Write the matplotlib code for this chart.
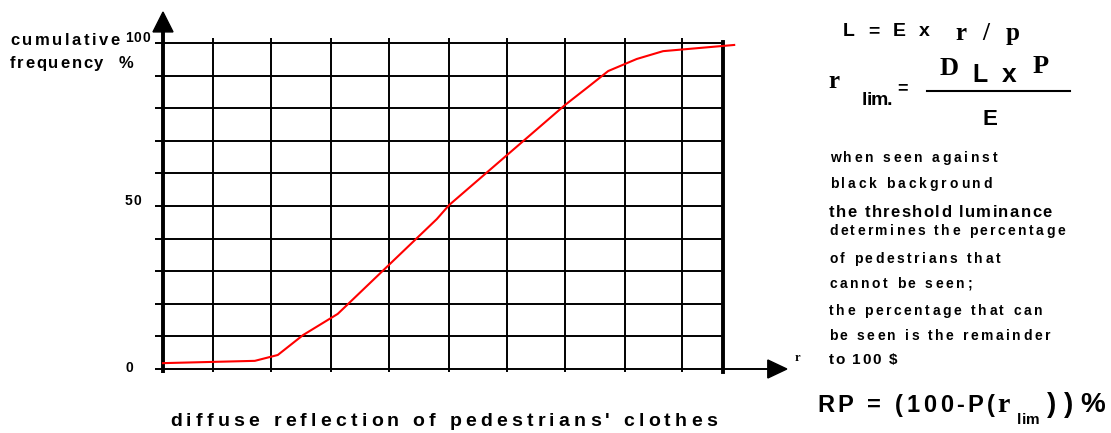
import matplotlib
matplotlib.use("Agg")
import matplotlib.pyplot as plt
from matplotlib.patches import Polygon

W, H = 1111, 433

# chart data (x in arbitrary reflection units, y in %)
grid_x = [0, 8.9, 19.3, 30.0, 40.4, 51.1, 61.4, 71.8, 82.5, 92.7, 100]
grid_y = [0, 10, 20, 30, 40, 50, 60, 70, 80, 90, 100]
tick_vals = [0, 50, 100]
curve_x = [0, 16.4, 20.5, 25.0, 31.2, 48.9, 51.1, 71.8, 75.9, 79.5, 84.6, 89.3, 102]
curve_y = [1.8, 2.5, 4.3, 10.4, 16.9, 46.0, 50.3, 81.0, 86.5, 91.4, 95.1, 97.5, 99.4]

x_label = "diffuse reflection of pedestrians' clothes"
y_label = ["cumulative", "frequency  %"]
notes = ["when seen against", "black background", "the threshold luminance",
         "determines the percentage", "of pedestrians that", "cannot be seen;",
         "the percentage that can", "be seen is the remainder", "to 100 $"]

SANS = "Liberation Sans"
SERIF = "Liberation Serif"

fig = plt.figure(figsize=(W / 100, H / 100), dpi=100)
ax = fig.add_axes([163 / W, (H - 369) / H, 560 / W, 326 / H])
ax.set_xlim(0, 100)
ax.set_ylim(0, 100)
ax.axis("off")
rend = fig.canvas.get_renderer()


def spaced(s, x0, y, size, x1=None, family=SANS, track=0.0):
    # letter-spaced text, pixel coords (top-left origin), y = baseline
    px = size * 100 / 72
    items = []
    for ch in s:
        if ch == " ":
            items.append((None, 0.28 * px))
        else:
            t = fig.text(0, 0, ch, fontsize=size, fontweight="bold", family=family,
                         ha="left", va="baseline")
            items.append((t, t.get_window_extent(rend).width))
    if x1 is not None and len(items) > 1:
        track = (x1 - x0 - sum(w for _, w in items)) / (len(items) - 1)
    x = x0
    for t, w in items:
        if t is not None:
            t.set_position((x / W, 1 - y / H))
        x += w + track


# grid
ax.hlines(grid_y, -1.43, 100, color="black", lw=1.4, clip_on=False)
ax.vlines(grid_x[1:-1], -0.9, 101.5, color="black", lw=1.4, clip_on=False)
ax.plot([100, 100], [-0.9, 100.3], color="black", lw=2.8, clip_on=False)

# axes with arrows
ax.plot([0, 0], [-1.2, 104], color="black", lw=2.8, clip_on=False, solid_capstyle="butt")
ax.add_patch(Polygon([(-1.79, 103.4), (1.79, 103.4), (0, 109.5)], closed=True,
                     color="black", clip_on=False))
ax.plot([100, 108.5], [0, 0], color="black", lw=1.4, clip_on=False)
ax.add_patch(Polygon([(108, -2.76), (108, 2.76), (111.4, 0)], closed=True,
                     color="black", clip_on=False))

# curve
ax.plot(curve_x, curve_y, color="red", lw=1.5, clip_on=False)

# tick labels
for v in tick_vals:
    py = H - ax.transData.transform((0, v))[1]
    spaced(str(v), 125, py - 1 if v else py + 3, 10, track=1.0)

# axis labels
spaced(y_label[0], 10, 45, 12, 120)
spaced(y_label[1], 10, 68, 12, 133)
spaced(x_label, 170, 426, 14, 717)
spaced("r", 795, 361, 9, family=SERIF)

# formulas
spaced("L = E x", 843, 36, 14, 930)
spaced("r / p", 955, 40, 18, 1020, family=SERIF)
spaced("r", 828, 88, 18, family=SERIF)
spaced("lim.", 862, 105, 14, 892)
spaced("=", 897, 93, 13)
spaced("D", 940, 75, 19, family=SERIF)
spaced("L", 972, 82, 18)
spaced("x", 1002, 82, 19)
spaced("P", 1033, 73, 19, family=SERIF)
fig.add_artist(plt.Line2D([927 / W, 1070 / W], [1 - 91 / H, 1 - 91 / H],
                          color="black", lw=1.5))
spaced("E", 983, 125, 16)

# notes
note_pos = [(830, 997, 162, 10), (830, 992, 188, 10), (829, 1052, 217, 12),
            (829, 1065, 235, 10), (829, 1000, 263, 10), (829, 972, 288, 10),
            (829, 1042, 315, 10), (829, 1050, 340, 10), (829, 897, 364, 11)]
for s, (x0, x1, y, sz) in zip(notes, note_pos):
    spaced(s, x0, y, sz, x1)

spaced("RP = (100-P(", 817, 412, 17, 995)
spaced("r", 997, 412, 20, family=SERIF)
spaced("lim", 1017, 424, 11, 1040)
spaced("))%", 1047, 412, 20, 1105)

fig.savefig("out.png", dpi=100)
